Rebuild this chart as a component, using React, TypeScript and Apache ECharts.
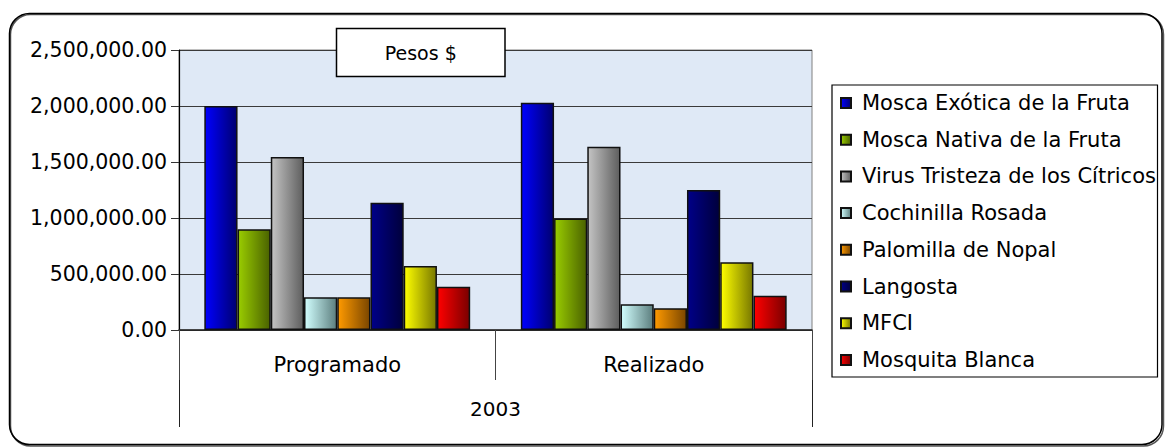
import React, { useEffect, useRef } from "react";
import * as echarts from "echarts";

const categories = ["Programado", "Realizado"];
const groupLabels = ["2003"];
const seriesNames = [
  "Mosca Exótica de la Fruta",
  "Mosca Nativa de la Fruta",
  "Virus Tristeza de los Cítricos",
  "Cochinilla Rosada",
  "Palomilla de Nopal",
  "Langosta",
  "MFCI",
  "Mosquita Blanca",
];
const moscaExotica = [2000000, 2030000];
const moscaNativa = [900000, 995000];
const virusTristeza = [1545000, 1637000];
const cochinilla = [292000, 229000];
const palomilla = [292000, 194000];
const langosta = [1137000, 1250000];
const mfci = [571000, 604000];
const mosquita = [387000, 306000];
const seriesValues = [moscaExotica, moscaNativa, virusTristeza, cochinilla, palomilla, langosta, mfci, mosquita];
const yMin = 0;
const yMax = 2500000;
const yInterval = 500000;
const boxTitle = "Pesos $";

const gradientStops: [string, string][] = [
  ["#0000ff", "#000070"],
  ["#9acd00", "#4a6200"],
  ["#c4c4c4", "#5e5e5e"],
  ["#d2ffff", "#5c7e7e"],
  ["#ff9a00", "#7a4600"],
  ["#000088", "#00003c"],
  ["#ffff00", "#787800"],
  ["#ff0000", "#7a0000"],
];

const FONT = "DejaVu Sans";

export default function App() {
  const ref = useRef<HTMLDivElement>(null);
  useEffect(() => {
    if (!ref.current) return;
    const chart = echarts.init(ref.current, undefined, { renderer: "svg" });
    const series = seriesNames.map((name, i) => ({
      name,
      type: "bar",
      data: seriesValues[i],
      barGap: "0%",
      barCategoryGap: "16%",
      xAxisIndex: 0,
      itemStyle: {
        color: new echarts.graphic.LinearGradient(0, 0, 1, 0, [
          { offset: 0, color: gradientStops[i][0] },
          { offset: 1, color: gradientStops[i][1] },
        ]),
        borderColor: "#111",
        borderWidth: 1.5,
      },
    }));
    chart.setOption({
      animation: false,
      textStyle: { fontFamily: FONT },
      grid: {
        left: 179,
        right: 353,
        top: 50,
        bottom: 118,
        show: true,
        backgroundColor: "#dfe9f6",
        borderColor: "#808080",
        borderWidth: 1,
      },
      xAxis: [
        {
          type: "category",
          data: categories,
          position: "bottom",
          axisLine: { show: true, lineStyle: { color: "#222", width: 1.5 } },
          axisTick: { show: true, length: 50, alignWithLabel: false, lineStyle: { color: "#444", width: 1 } },
          axisLabel: { color: "#000", fontSize: 21, margin: 24, fontFamily: FONT },
          splitLine: { show: false },
        },
        {
          type: "category",
          data: groupLabels,
          position: "bottom",
          offset: 50,
          axisLine: { show: true, lineStyle: { color: "rgba(0,0,0,0)" } },
          axisTick: { show: true, length: 47, alignWithLabel: false, lineStyle: { color: "#222", width: 1 } },
          axisLabel: { color: "#000", fontSize: 20, margin: 19, fontFamily: FONT },
          splitLine: { show: false },
        },
      ],
      yAxis: {
        type: "value",
        min: yMin,
        max: yMax,
        interval: yInterval,
        axisLine: { show: true, lineStyle: { color: "#000", width: 1.2 } },
        axisTick: { show: true, length: 8, lineStyle: { color: "#333" } },
        axisLabel: {
          color: "#000",
          fontSize: 20.5,
          margin: 12,
          fontFamily: FONT,
          formatter: (v: number) =>
            v.toLocaleString("en-US", { minimumFractionDigits: 2, maximumFractionDigits: 2 }),
        },
        splitLine: { show: true, lineStyle: { color: "#3a3a3a", width: 1 } },
      },
      legend: {
        orient: "vertical",
        left: 840,
        top: 92,
        padding: 0,
        itemGap: 14.7,
        itemWidth: 10,
        itemHeight: 10,
        icon: "rect",
        data: seriesNames,
        textStyle: { color: "#000", fontSize: 21, lineHeight: 22, padding: [0, 0, 0, 6], fontFamily: FONT },
      },
      graphic: [
        {
          type: "rect",
          z: -10,
          shape: { x: 10.5, y: 14.5, width: 1153, height: 431.5, r: 20 },
          style: { fill: "none", stroke: "#555", lineWidth: 1.5 },
        },
        {
          type: "rect",
          z: -9,
          shape: { x: 9.5, y: 13.5, width: 1152.5, height: 431, r: 20 },
          style: { fill: "none", stroke: "#000", lineWidth: 1.5 },
        },
        {
          type: "rect",
          z: 0,
          shape: { x: 832, y: 85, width: 325.5, height: 292 },
          style: { fill: "#fff", stroke: "#000", lineWidth: 1.2 },
        },
        {
          type: "rect",
          z: 100,
          shape: { x: 336.5, y: 28.5, width: 168.5, height: 48 },
          style: { fill: "#fff", stroke: "#000", lineWidth: 1.5 },
        },
        {
          type: "text",
          z: 101,
          x: 420.75,
          y: 52.5,
          style: {
            text: boxTitle,
            fill: "#000",
            fontSize: 19,
            fontFamily: FONT,
            align: "center",
            verticalAlign: "middle",
          },
        },
      ],
      series,
    });
    return () => chart.dispose();
  }, []);
  return (
    <div
      ref={ref}
      style={{ position: "fixed", left: 0, top: 0, width: 1165, height: 448, background: "#fff" }}
    />
  );
}
